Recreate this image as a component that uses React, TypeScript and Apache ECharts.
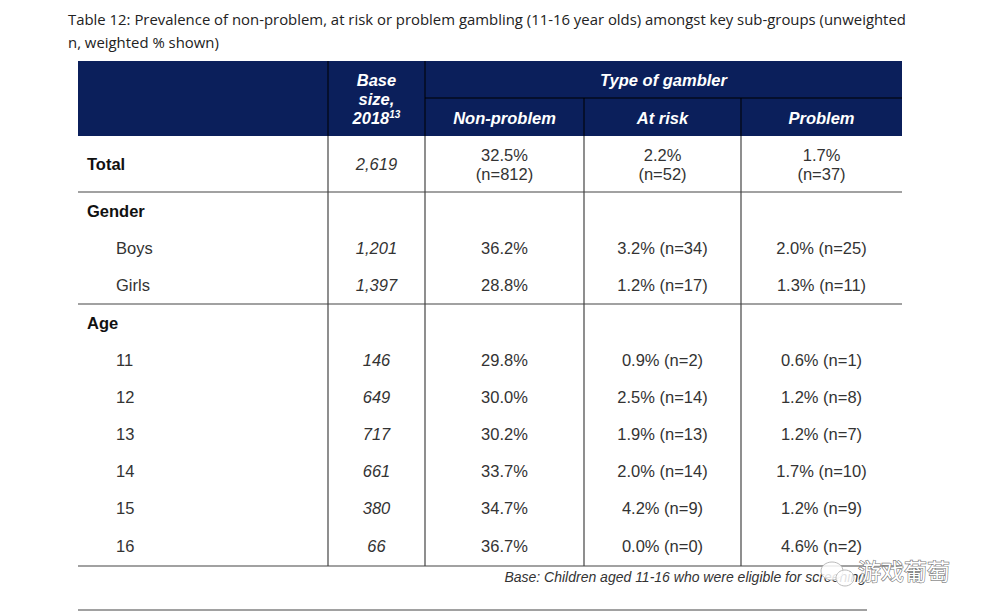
import React, { useEffect, useRef } from "react";
import * as echarts from "echarts";

const titleLines = [
  "Table 12: Prevalence of non-problem, at risk or problem gambling (11-16 year olds) amongst key sub-groups (unweighted",
  "n, weighted % shown)",
];
const headerGroup = "Type of gambler";
const subHeaders = ["Non-problem", "At risk", "Problem"];
const rowLabels = ["Total", "Gender", "Boys", "Girls", "Age", "11", "12", "13", "14", "15", "16"];
const rowKinds = ["total", "group", "sub", "sub", "group", "sub", "sub", "sub", "sub", "sub", "sub"];
const baseSizes = ["2,619", "", "1,201", "1,397", "", "146", "649", "717", "661", "380", "66"];
const nonProblem = ["32.5%\n(n=812)", "", "36.2%", "28.8%", "", "29.8%", "30.0%", "30.2%", "33.7%", "34.7%", "36.7%"];
const atRisk = ["2.2%\n(n=52)", "", "3.2% (n=34)", "1.2% (n=17)", "", "0.9% (n=2)", "2.5% (n=14)", "1.9% (n=13)", "2.0% (n=14)", "4.2% (n=9)", "0.0% (n=0)"];
const problem = ["1.7%\n(n=37)", "", "2.0% (n=25)", "1.3% (n=11)", "", "0.6% (n=1)", "1.2% (n=8)", "1.2% (n=7)", "1.7% (n=10)", "1.2% (n=9)", "4.6% (n=2)"];
const rowY = [164, 211, 248, 285, 323, 360, 397, 434, 471, 508, 546];
const footnote = "Base: Children aged 11-16 who were eligible for screening";

const NAVY = "#0b1f5b";
const TEXT = "#333";
const FONT = "'Liberation Sans', Arial, sans-serif";
const FS = 16.5;
const colX = [78, 328, 425, 584, 741, 902];
const hTop = 61, hMid = 98, hBot = 136;
const groupLines = [192, 304, 566];

export default function App() {
  const ref = useRef<HTMLDivElement>(null);
  useEffect(() => {
    if (!ref.current) return;
    const chart = echarts.init(ref.current, null, { renderer: "svg" });
    const els: any[] = [];
    titleLines.forEach((t, i) => {
      els.push({
        type: "text", x: 68, y: 19 + i * 23,
        style: { text: t, fill: "#222", font: "14.9px 'Open Sans', 'Noto Sans', sans-serif", textVerticalAlign: "middle" },
      });
    });
    els.push({ type: "rect", shape: { x: colX[0], y: hTop, width: colX[5] - colX[0], height: hBot - hTop }, style: { fill: NAVY } });
    const dark = { stroke: "#000", lineWidth: 1 };
    els.push({ type: "line", shape: { x1: colX[1], y1: hTop, x2: colX[1], y2: hBot }, style: dark });
    els.push({ type: "line", shape: { x1: colX[2], y1: hTop, x2: colX[2], y2: hBot }, style: dark });
    els.push({ type: "line", shape: { x1: colX[2], y1: hMid, x2: colX[5], y2: hMid }, style: dark });
    els.push({ type: "line", shape: { x1: colX[3], y1: hMid, x2: colX[3], y2: hBot }, style: dark });
    els.push({ type: "line", shape: { x1: colX[4], y1: hMid, x2: colX[4], y2: hBot }, style: dark });
    const hf = `italic bold ${FS}px ${FONT}`;
    const bx = (colX[1] + colX[2]) / 2;
    els.push({ type: "text", x: bx, y: 80, style: { text: "Base", fill: "#fff", font: hf, textAlign: "center", textVerticalAlign: "middle" } });
    els.push({ type: "text", x: bx, y: 99, style: { text: "size,", fill: "#fff", font: hf, textAlign: "center", textVerticalAlign: "middle" } });
    els.push({
      type: "text", x: bx, y: 118,
      style: {
        text: "{a|2018}{s|13}", textAlign: "center", textVerticalAlign: "middle",
        rich: {
          a: { fill: "#fff", fontFamily: FONT, fontStyle: "italic", fontWeight: "bold", fontSize: FS },
          s: { fill: "#fff", fontFamily: FONT, fontStyle: "italic", fontWeight: "bold", fontSize: 10, verticalAlign: "top", padding: [0, 0, 8, 0] },
        },
      },
    });
    els.push({ type: "text", x: (colX[2] + colX[5]) / 2, y: 80, style: { text: headerGroup, fill: "#fff", font: hf, textAlign: "center", textVerticalAlign: "middle" } });
    subHeaders.forEach((s, i) => {
      els.push({ type: "text", x: (colX[2 + i] + colX[3 + i]) / 2, y: 118, style: { text: s, fill: "#fff", font: hf, textAlign: "center", textVerticalAlign: "middle" } });
    });
    const ls = { stroke: "#444", lineWidth: 1.2 };
    groupLines.forEach((y) => els.push({ type: "line", shape: { x1: colX[0], y1: y, x2: colX[5], y2: y }, style: ls }));
    [1, 2, 3, 4].forEach((c) => els.push({ type: "line", shape: { x1: colX[c], y1: hBot, x2: colX[c], y2: 566 }, style: ls }));
    els.push({ type: "line", shape: { x1: colX[0], y1: 610, x2: 867, y2: 610 }, style: ls });
    rowLabels.forEach((lab, i) => {
      const kind = rowKinds[i];
      const y = rowY[i];
      els.push({
        type: "text", x: kind === "sub" ? 116 : 87, y,
        style: { text: lab, fill: kind === "sub" ? TEXT : "#111", font: `${kind === "sub" ? "" : "bold "}${FS}px ${FONT}`, textVerticalAlign: "middle" },
      });
      if (baseSizes[i]) {
        els.push({ type: "text", x: bx, y, style: { text: baseSizes[i], fill: TEXT, font: `italic ${FS}px ${FONT}`, textAlign: "center", textVerticalAlign: "middle" } });
      }
      [nonProblem, atRisk, problem].forEach((arr, c) => {
        if (!arr[i]) return;
        els.push({
          type: "text", x: (colX[2 + c] + colX[3 + c]) / 2, y,
          style: { text: arr[i], fill: TEXT, font: `${FS}px ${FONT}`, textAlign: "center", textVerticalAlign: "middle", lineHeight: 19 },
        });
      });
    });
    els.push({ type: "text", x: 866, y: 577, style: { text: footnote, fill: "#333", font: `italic 14px ${FONT}`, textAlign: "right", textVerticalAlign: "middle" } });
    els.push({ type: "ellipse", shape: { cx: 832, cy: 571, rx: 11, ry: 9 }, style: { fill: "rgba(255,255,255,0.85)", stroke: "#bbb", lineWidth: 1 } });
    els.push({ type: "ellipse", shape: { cx: 845, cy: 578, rx: 9, ry: 8 }, style: { fill: "rgba(255,255,255,0.85)", stroke: "#bbb", lineWidth: 1 } });
    els.push({ type: "text", x: 858, y: 570, style: { text: "游戏葡萄", fill: "#fff", stroke: "#777", lineWidth: 1.2, font: "23px 'Noto Sans CJK SC', sans-serif", textVerticalAlign: "middle" } });

    chart.setOption({ animation: false, graphic: { elements: els } });
    return () => chart.dispose();
  }, []);
  return <div ref={ref} style={{ width: 983, height: 613, position: "absolute", left: 0, top: 0, background: "#fff" }} />;
}
